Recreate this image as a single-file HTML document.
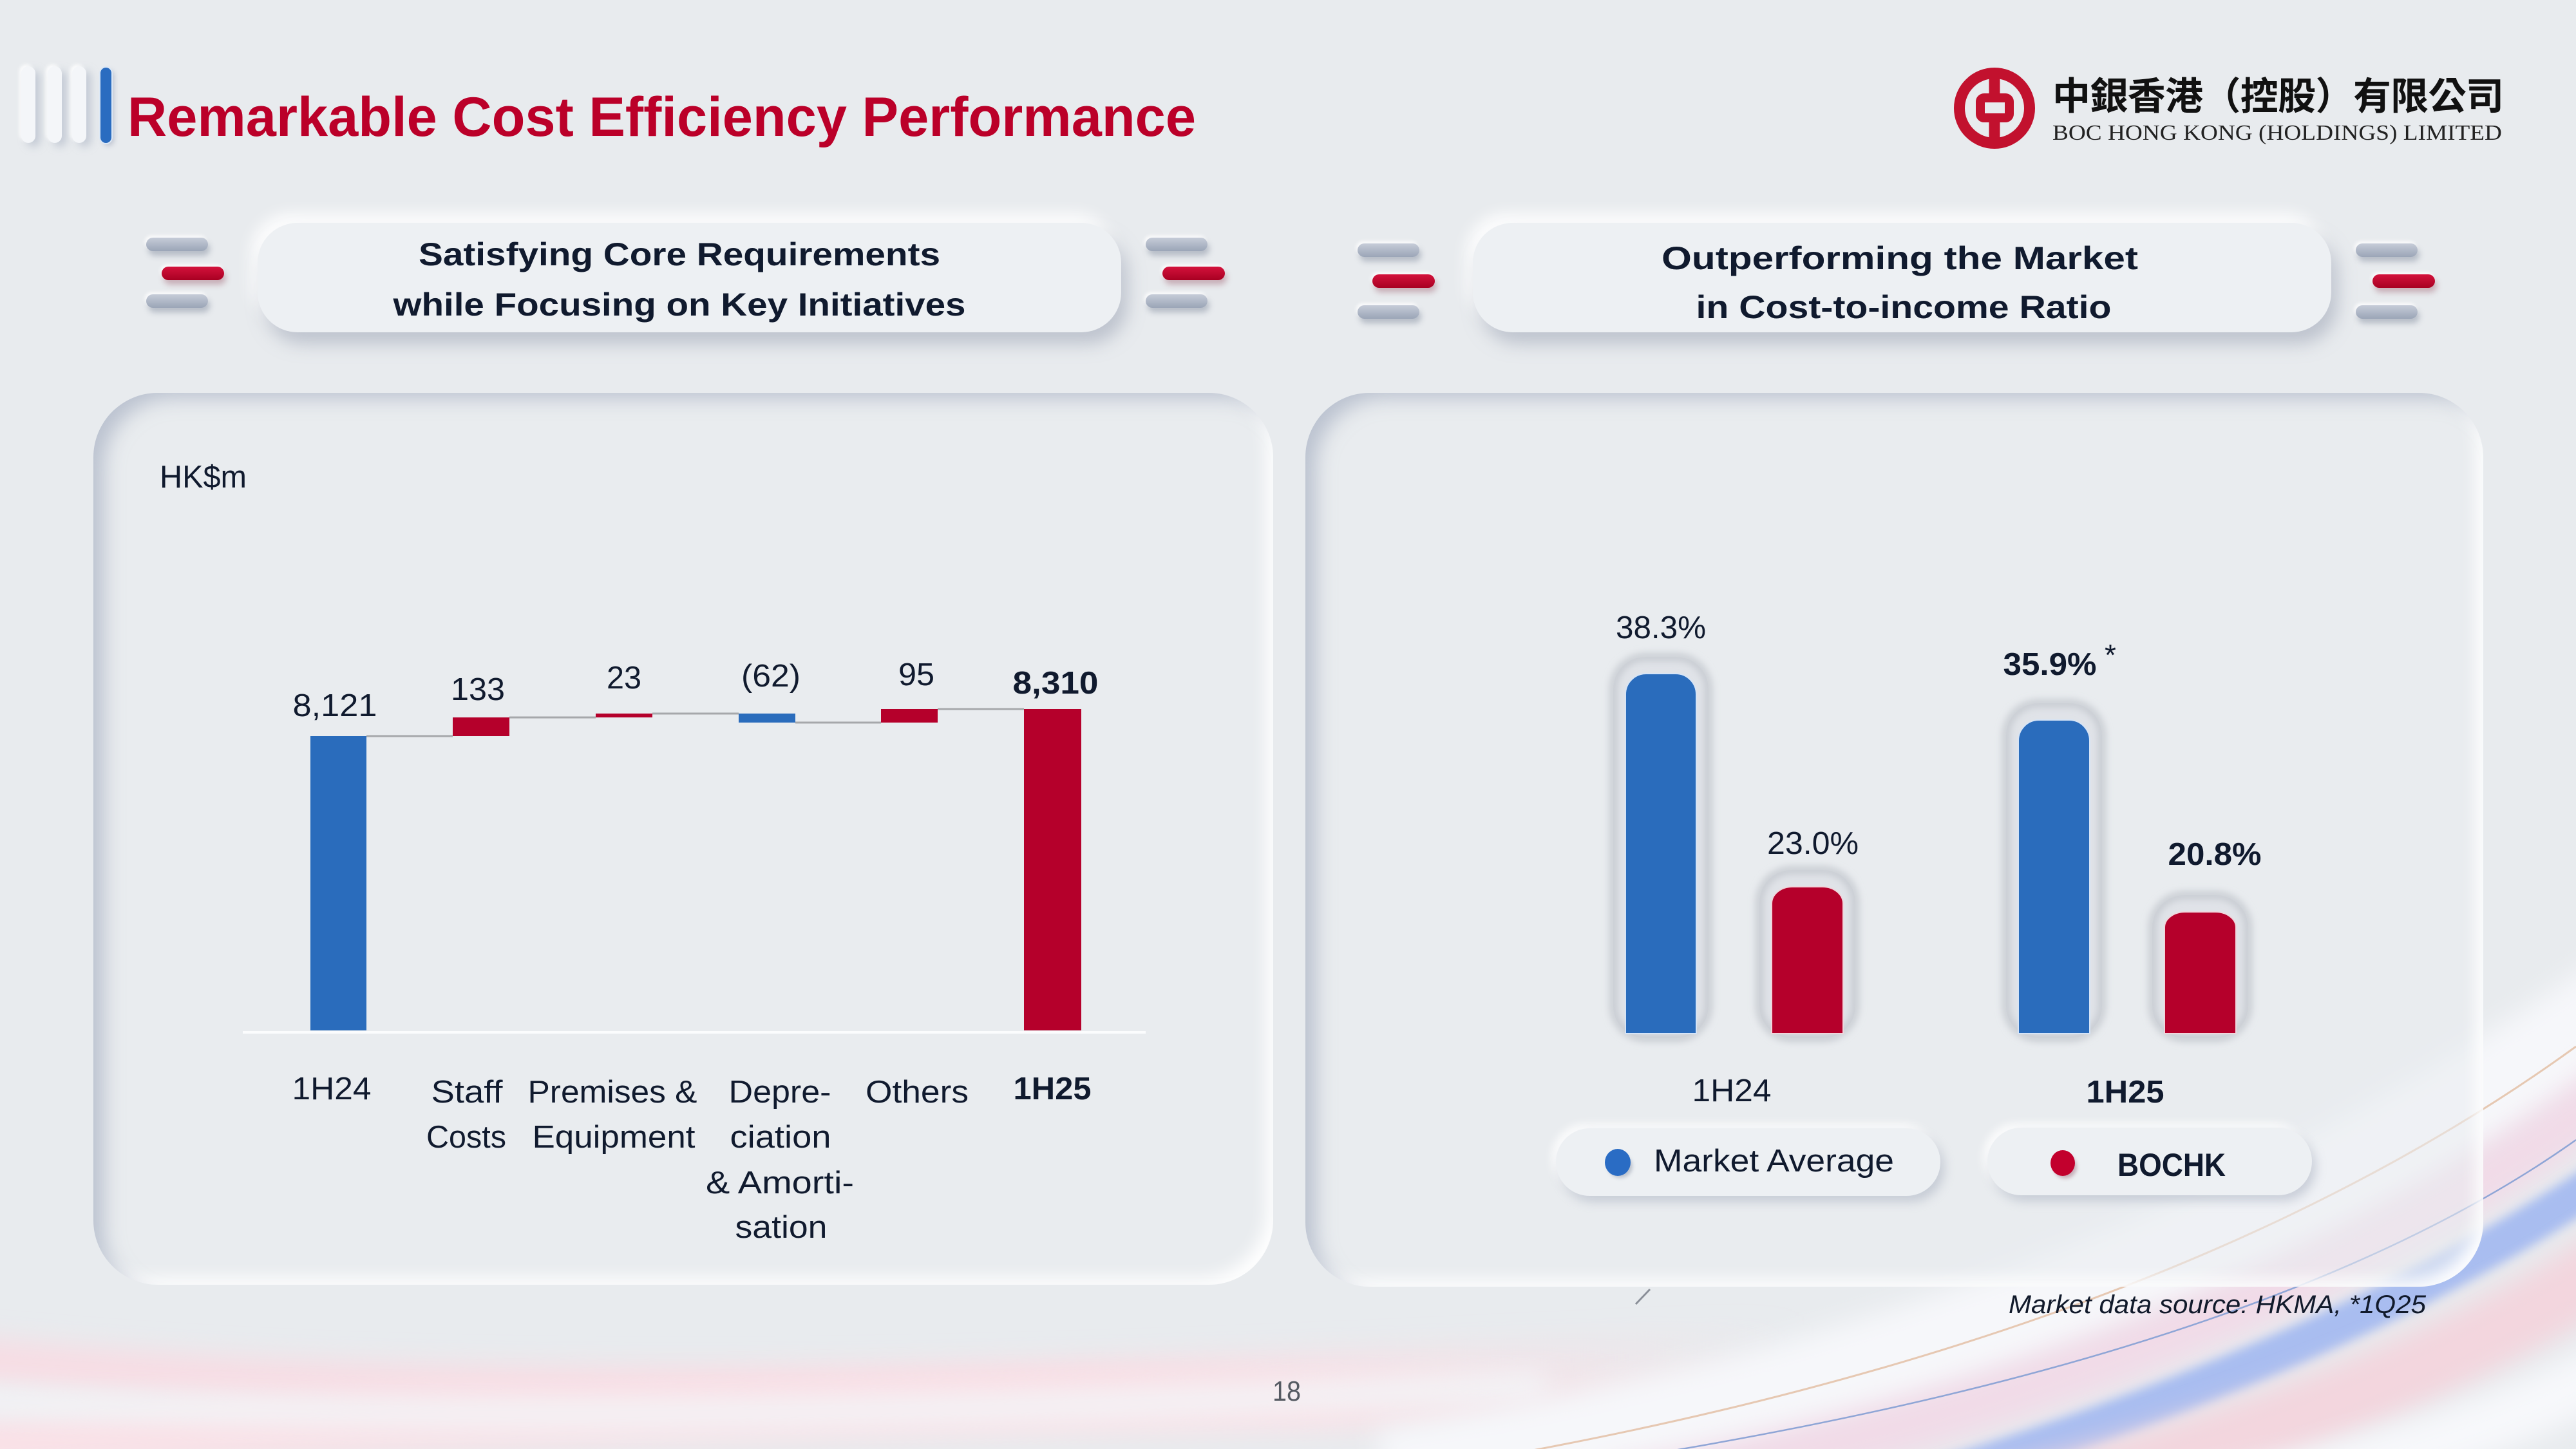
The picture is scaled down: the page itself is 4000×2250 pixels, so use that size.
<!DOCTYPE html>
<html>
<head>
<meta charset="utf-8">
<style>
  html,body{margin:0;padding:0;}
  body{width:4000px;height:2250px;overflow:hidden;background:#e8ebee;position:relative;font-family:"Liberation Sans",sans-serif;}
  .abs{position:absolute;}
  .panel{position:absolute;border-radius:100px;background:rgba(233,236,240,0.55);
    box-shadow: inset 24px 16px 30px -8px rgba(150,160,182,0.55), inset -16px -16px 26px -6px rgba(255,255,255,1);}
  .hpill{position:absolute;border-radius:62px;background:#edf0f3;
    box-shadow: 10px 18px 26px rgba(150,158,176,0.5), -10px -14px 24px rgba(255,255,255,0.95);}
  .lpill{position:absolute;border-radius:53px;background:#edf0f3;
    box-shadow: 6px 9px 16px rgba(155,163,182,0.45), -6px -6px 14px rgba(255,255,255,0.95);}
  .dg{position:absolute;height:21px;width:96px;border-radius:11px;background:linear-gradient(#c6ccd8,#9ba5b7);
    box-shadow: 3px 7px 9px rgba(120,130,150,0.45), -2px -3px 6px rgba(255,255,255,0.95);}
  .dr{position:absolute;height:21px;width:97px;border-radius:11px;background:linear-gradient(#d4123c,#a80022);
    box-shadow: 3px 7px 9px rgba(140,60,80,0.35), -2px -3px 6px rgba(255,255,255,0.95);}
  .tb{position:absolute;width:22px;border-radius:11px;background:#f4f6f9;
    box-shadow: 8px 6px 12px rgba(170,178,195,0.55), -3px -3px 6px rgba(255,255,255,0.9);}
</style>
</head>
<body>

<!-- background swooshes -->
<svg class="abs" style="left:0;top:0" width="4000" height="2250" viewBox="0 0 4000 2250">
  <defs>
    <filter id="bl20" x="-30%" y="-100%" width="160%" height="300%"><feGaussianBlur stdDeviation="20"/></filter>
    <filter id="bl8" x="-30%" y="-100%" width="160%" height="300%"><feGaussianBlur stdDeviation="8"/></filter>
    <linearGradient id="pinkfade" gradientUnits="userSpaceOnUse" x1="0" y1="0" x2="2800" y2="0">
      <stop offset="0" stop-color="#f7dde4"/>
      <stop offset="0.6" stop-color="#f7dde4"/>
      <stop offset="1" stop-color="#f7dde4" stop-opacity="0"/>
    </linearGradient>
    <linearGradient id="pinkfade2" gradientUnits="userSpaceOnUse" x1="0" y1="0" x2="2900" y2="0">
      <stop offset="0" stop-color="#f9e1e7"/>
      <stop offset="0.7" stop-color="#f9e1e7"/>
      <stop offset="1" stop-color="#f9e1e7" stop-opacity="0"/>
    </linearGradient>
  </defs>
  <!-- bottom-left pink bands -->
  <path d="M -150 2100 Q 900 2220 2800 2090" stroke="url(#pinkfade)" stroke-width="70" fill="none" filter="url(#bl20)"/>
  <path d="M -150 2250 Q 1000 2170 2900 2170" stroke="url(#pinkfade2)" stroke-width="90" fill="none" filter="url(#bl20)"/>
  <path d="M -150 2170 Q 1000 2230 2400 2150" stroke="#f3f4f7" stroke-width="40" fill="none" filter="url(#bl20)"/>
  <!-- bottom-right swoosh -->
  <path d="M 2150 2300 Q 3300 2120 4100 1540" stroke="#f6f7fa" stroke-width="160" fill="none" filter="url(#bl20)"/>
  <path d="M 2500 2320 Q 3500 2130 4100 1660" stroke="#f1dbe8" stroke-width="90" fill="none" filter="url(#bl20)"/>
  <path d="M 2900 2330 Q 3650 2110 4100 1790" stroke="#a9bdf0" stroke-width="60" fill="none" filter="url(#bl8)"/>
  <path d="M 3100 2340 Q 3750 2180 4100 1930" stroke="#f3d6de" stroke-width="110" fill="none" filter="url(#bl20)"/>
  <path d="M 3400 2340 Q 3850 2250 4100 2100" stroke="#f7f8fb" stroke-width="90" fill="none" filter="url(#bl20)"/>
  <path d="M 2380 2252 Q 3400 2060 4000 1625" stroke="#e6c8b2" stroke-width="3" fill="none"/>
  <path d="M 2600 2252 Q 3550 2090 4000 1770" stroke="#8ea5d6" stroke-width="2.5" fill="none"/>
  <path d="M 2540 2025 L 2562 2002" stroke="#8a8f98" stroke-width="3"/>
</svg>

<!-- title decoration bars -->
<div class="tb" style="left:33px;top:103px;height:119px;"></div>
<div class="tb" style="left:74px;top:103px;height:119px;"></div>
<div class="tb" style="left:112px;top:103px;height:119px;"></div>
<div class="abs" style="left:156px;top:105px;width:17px;height:117px;border-radius:9px;background:#2a6cc0;box-shadow:0 0 0 2px #dce8f6, 4px 4px 8px rgba(120,130,160,0.4);"></div>

<!-- header pills -->
<div class="hpill" style="left:400px;top:346px;width:1341px;height:170px;"></div>
<div class="hpill" style="left:2287px;top:346px;width:1333px;height:170px;"></div>

<!-- dashes -->
<div class="dg" style="left:227px;top:369px;"></div>
<div class="dr" style="left:251px;top:414px;"></div>
<div class="dg" style="left:227px;top:457px;"></div>
<div class="dg" style="left:1779px;top:369px;"></div>
<div class="dr" style="left:1805px;top:414px;"></div>
<div class="dg" style="left:1779px;top:457px;"></div>

<div class="dg" style="left:2108px;top:378px;"></div>
<div class="dr" style="left:2131px;top:426px;"></div>
<div class="dg" style="left:2108px;top:474px;"></div>
<div class="dg" style="left:3658px;top:378px;"></div>
<div class="dr" style="left:3684px;top:426px;"></div>
<div class="dg" style="left:3658px;top:474px;"></div>

<!-- panels -->
<div class="panel" style="left:145px;top:610px;width:1832px;height:1385px;"></div>
<div class="panel" style="left:2027px;top:610px;width:1829px;height:1388px;"></div>

<!-- legend pills -->
<div class="lpill" style="left:2416px;top:1752px;width:597px;height:105px;"></div>
<div class="lpill" style="left:3086px;top:1751px;width:504px;height:105px;"></div>

<!-- foreground -->
<svg class="abs" style="left:0;top:0" width="4000" height="2250" viewBox="0 0 4000 2250" font-family="'Liberation Sans', sans-serif">
  <defs>
    <filter id="s6" x="-50%" y="-20%" width="200%" height="140%"><feGaussianBlur stdDeviation="6"/></filter>
    <filter id="s3" x="-50%" y="-50%" width="200%" height="200%"><feGaussianBlur stdDeviation="3"/></filter>
  </defs>

  <!-- Title -->
  <text x="198" y="211" font-size="86" font-weight="bold" fill="#bb0029" textLength="1659" lengthAdjust="spacingAndGlyphs">Remarkable Cost Efficiency Performance</text>

  <!-- Logo -->
  <g fill="none" stroke="#c2112e">
    <circle cx="3097" cy="168" r="54.5" stroke-width="17"/>
    <rect x="3075" y="152" width="45" height="31" rx="6" stroke-width="14"/>
    <line x1="3097" y1="112" x2="3097" y2="146" stroke-width="17"/>
    <line x1="3097" y1="189" x2="3097" y2="226" stroke-width="17"/>
  </g>
  <text x="3187" y="170" font-family="'Liberation Sans','Noto Sans CJK TC','Noto Sans CJK SC',sans-serif" font-size="59" font-weight="bold" fill="#111" textLength="701" lengthAdjust="spacing">中銀香港（控股）有限公司</text>
  <text x="3187" y="217" font-family="'Liberation Serif',serif" font-size="34" fill="#222" textLength="698" lengthAdjust="spacingAndGlyphs">BOC HONG KONG (HOLDINGS) LIMITED</text>

  <!-- Header pill texts -->
  <g font-size="50" font-weight="bold" fill="#101a2e" text-anchor="middle">
    <text x="1055" y="412" textLength="810" lengthAdjust="spacingAndGlyphs">Satisfying Core Requirements</text>
    <text x="1055" y="490" textLength="889" lengthAdjust="spacingAndGlyphs">while Focusing on Key Initiatives</text>
    <text x="2950" y="418" textLength="740" lengthAdjust="spacingAndGlyphs">Outperforming the Market</text>
    <text x="2956" y="494" textLength="645" lengthAdjust="spacingAndGlyphs">in Cost-to-income Ratio</text>
  </g>

  <!-- Left waterfall chart -->
  <text x="248" y="757" font-size="49" fill="#101a2e" textLength="135" lengthAdjust="spacingAndGlyphs">HK$m</text>
  <line x1="377" y1="1603" x2="1779" y2="1603" stroke="#fbfcfd" stroke-width="4"/>
  <g stroke="#a6a8ab" stroke-width="3">
    <line x1="569" y1="1143" x2="703" y2="1143"/>
    <line x1="791" y1="1114" x2="925" y2="1114"/>
    <line x1="1013" y1="1108" x2="1147" y2="1108"/>
    <line x1="1235" y1="1122" x2="1368" y2="1122"/>
    <line x1="1456" y1="1101" x2="1590" y2="1101"/>
  </g>
  <rect x="482" y="1143" width="87" height="457" fill="#2a6cbc"/>
  <rect x="703" y="1114" width="88" height="29" fill="#b5002b"/>
  <rect x="925" y="1108" width="88" height="6" fill="#b5002b"/>
  <rect x="1147" y="1108" width="88" height="14" fill="#2a6cbc"/>
  <rect x="1368" y="1101" width="88" height="21" fill="#b5002b"/>
  <rect x="1590" y="1101" width="89" height="499" fill="#b5002b"/>

  <g font-size="49" fill="#101a2e" text-anchor="middle">
    <text x="520" y="1112" textLength="131" lengthAdjust="spacingAndGlyphs">8,121</text>
    <text x="742" y="1087" textLength="84" lengthAdjust="spacingAndGlyphs">133</text>
    <text x="969" y="1069" textLength="54" lengthAdjust="spacingAndGlyphs">23</text>
    <text x="1197" y="1066" textLength="92" lengthAdjust="spacingAndGlyphs">(62)</text>
    <text x="1423" y="1064" textLength="56" lengthAdjust="spacingAndGlyphs">95</text>
    <text x="1639" y="1077" font-weight="bold" textLength="133" lengthAdjust="spacingAndGlyphs">8,310</text>

    <text x="515" y="1707" textLength="123" lengthAdjust="spacingAndGlyphs">1H24</text>
    <text x="725" y="1712" textLength="111" lengthAdjust="spacingAndGlyphs">Staff</text>
    <text x="724" y="1782" textLength="124" lengthAdjust="spacingAndGlyphs">Costs</text>
    <text x="951" y="1712" textLength="263" lengthAdjust="spacingAndGlyphs">Premises &amp;</text>
    <text x="953" y="1782" textLength="253" lengthAdjust="spacingAndGlyphs">Equipment</text>
    <text x="1211" y="1712" textLength="159" lengthAdjust="spacingAndGlyphs">Depre-</text>
    <text x="1212" y="1782" textLength="157" lengthAdjust="spacingAndGlyphs">ciation</text>
    <text x="1211" y="1853" textLength="230" lengthAdjust="spacingAndGlyphs">&amp; Amorti-</text>
    <text x="1213" y="1922" textLength="143" lengthAdjust="spacingAndGlyphs">sation</text>
    <text x="1424" y="1712" textLength="160" lengthAdjust="spacingAndGlyphs">Others</text>
    <text x="1634" y="1707" font-weight="bold" textLength="121" lengthAdjust="spacingAndGlyphs">1H25</text>
  </g>

  <!-- Right chart: troughs -->
  <g>
    <rect x="2505" y="1020" width="148" height="592" rx="50" fill="#e0e3e8"/>
    <rect x="2505" y="1020" width="148" height="592" rx="50" fill="none" stroke="#bec2c9" stroke-width="9" filter="url(#s6)"/>
    <rect x="2732" y="1351" width="149" height="261" rx="50" fill="#e0e3e8"/>
    <rect x="2732" y="1351" width="149" height="261" rx="50" fill="none" stroke="#bec2c9" stroke-width="9" filter="url(#s6)"/>
    <rect x="3115" y="1092" width="149" height="520" rx="50" fill="#e0e3e8"/>
    <rect x="3115" y="1092" width="149" height="520" rx="50" fill="none" stroke="#bec2c9" stroke-width="9" filter="url(#s6)"/>
    <rect x="3342" y="1390" width="149" height="222" rx="50" fill="#e0e3e8"/>
    <rect x="3342" y="1390" width="149" height="222" rx="50" fill="none" stroke="#bec2c9" stroke-width="9" filter="url(#s6)"/>
  </g>
  <!-- Right chart bars -->
  <g stroke="#d6e4f6" stroke-width="2">
    <path d="M2524 1605 V1078 A32 32 0 0 1 2556 1046 H2602 A32 32 0 0 1 2634 1078 V1605 Z" fill="#2a6cbc"/>
    <path d="M2751 1605 V1403 A32 26 0 0 1 2783 1377 H2830 A32 26 0 0 1 2862 1403 V1605 Z" fill="#b5002b" stroke="#efd6dc"/>
    <path d="M3134 1605 V1150 A32 32 0 0 1 3166 1118 H3213 A32 32 0 0 1 3245 1150 V1605 Z" fill="#2a6cbc"/>
    <path d="M3361 1605 V1440 A32 24 0 0 1 3393 1416 H3440 A32 24 0 0 1 3472 1440 V1605 Z" fill="#b5002b" stroke="#efd6dc"/>
  </g>

  <g font-size="49" fill="#101a2e" text-anchor="middle">
    <text x="2579" y="991" textLength="140" lengthAdjust="spacingAndGlyphs">38.3%</text>
    <text x="2815" y="1326" textLength="142" lengthAdjust="spacingAndGlyphs">23.0%</text>
    <text x="3183" y="1048" font-weight="bold" textLength="145" lengthAdjust="spacingAndGlyphs">35.9%</text>
    <text x="3439" y="1343" font-weight="bold" textLength="145" lengthAdjust="spacingAndGlyphs">20.8%</text>
    <text x="2689" y="1710" textLength="123" lengthAdjust="spacingAndGlyphs">1H24</text>
    <text x="3300" y="1712" font-weight="bold" textLength="121" lengthAdjust="spacingAndGlyphs">1H25</text>
  </g>
  <text x="3277" y="1033" font-size="46" fill="#101a2e" text-anchor="middle">*</text>

  <!-- Legend -->
  <ellipse cx="2516" cy="1811" rx="19" ry="18" fill="#8d96a8" opacity="0.5" filter="url(#s3)"/>
  <ellipse cx="2512" cy="1805" rx="20" ry="21" fill="#2a6cc4"/>
  <ellipse cx="3207" cy="1812" rx="18" ry="18" fill="#a07080" opacity="0.5" filter="url(#s3)"/>
  <ellipse cx="3203" cy="1806" rx="19" ry="20" fill="#c2002d"/>
  <text x="2568" y="1819" font-size="49" fill="#101a2e" textLength="373" lengthAdjust="spacingAndGlyphs">Market Average</text>
  <text x="3288" y="1826" font-size="50" font-weight="bold" fill="#101a2e" textLength="168" lengthAdjust="spacingAndGlyphs">BOCHK</text>

  <!-- Source note -->
  <text x="3119" y="2039" font-size="40" font-style="italic" fill="#111a2b" textLength="648" lengthAdjust="spacingAndGlyphs">Market data source: HKMA, *1Q25</text>

  <!-- page number -->
  <text x="1998" y="2175" font-size="44" fill="#555a62" text-anchor="middle" textLength="44" lengthAdjust="spacingAndGlyphs">18</text>
</svg>

</body>
</html>
